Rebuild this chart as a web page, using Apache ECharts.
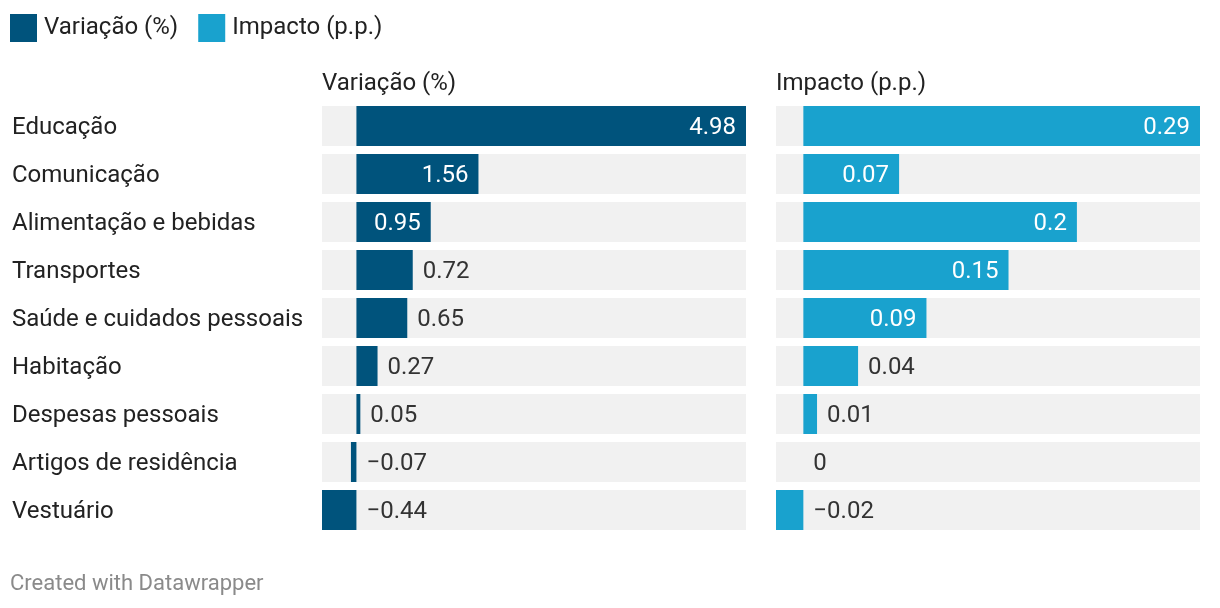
<!DOCTYPE html>
<html>
<head>
<meta charset="utf-8">
<script src="https://cdn.jsdelivr.net/npm/echarts@6/dist/echarts.min.js"></script>
<style>
html,body{margin:0;padding:0;background:#fff;}
#chart{width:1220px;height:608px;}
</style>
</head>
<body>
<div id="chart"></div>
<script>
const categories = ["Educação","Comunicação","Alimentação e bebidas","Transportes","Saúde e cuidados pessoais","Habitação","Despesas pessoais","Artigos de residência","Vestuário"];
const variacao = [4.98, 1.56, 0.95, 0.72, 0.65, 0.27, 0.05, -0.07, -0.44];
const impacto = [0.29, 0.07, 0.2, 0.15, 0.09, 0.04, 0.01, 0, -0.02];
const seriesNames = ["Variação (%)", "Impacto (p.p.)"];
const footerText = "Created with Datawrapper";

const DARK = "#00537c";
const LIGHT = "#19a2ce";
const BG = "#f1f1f1";
const FONT = "Roboto";
const GRID_W = 424;
const FS = 24;

function fmt(v){ return String(v).replace('-', '\u2212'); }

function labelData(vals, min, max){
  const scale = GRID_W / (max - min);
  return vals.map(v => {
    const px = Math.max(v,0) * scale;
    const tw = fmt(v).length * 12 + 20;
    const inside = v > 0 && px >= tw;
    return {
      value: Math.max(v, 0),
      label: {
        position: inside ? 'insideRight' : 'right',
        distance: 10,
        color: inside ? '#ffffff' : '#333333'
      },
      raw: v
    };
  });
}

const vMin = -0.44, vMax = 4.98, iMin = -0.02, iMax = 0.29;

const chart = echarts.init(document.getElementById('chart'), null, {renderer:'canvas'});
const labelStyle = {show:true, fontFamily:FONT, fontSize:FS, offset:[0,2], formatter: p => fmt(p.data.raw)};

chart.setOption({
  animation:false,
  textStyle:{fontFamily:FONT},
  legend:{
    left:10, top:14, padding:0, itemWidth:27, itemHeight:28, itemGap:20, icon:'rect',
    data:seriesNames,
    textStyle:{fontFamily:FONT, fontSize:FS, color:'#222', padding:[0,0,0,2]}
  },
  title:[
    {text:seriesNames[0], left:322, top:72, textStyle:{fontFamily:FONT, fontSize:FS, fontWeight:'normal', color:'#222'}, padding:0},
    {text:seriesNames[1], left:776, top:72, textStyle:{fontFamily:FONT, fontSize:FS, fontWeight:'normal', color:'#222'}, padding:0},
    {text:footerText, left:10, top:573, textStyle:{fontFamily:FONT, fontSize:22, fontWeight:'normal', color:'#8a8a8a'}, padding:0}
  ],
  grid:[
    {left:322, top:102, width:GRID_W, height:432},
    {left:776, top:102, width:GRID_W, height:432}
  ],
  xAxis:[
    {type:'value', gridIndex:0, min:vMin, max:vMax, show:false},
    {type:'value', gridIndex:1, min:iMin, max:iMax, show:false}
  ],
  yAxis:[
    {type:'category', gridIndex:0, data:categories, inverse:true,
     axisLine:{show:false}, axisTick:{show:false}, splitLine:{show:false},
     axisLabel:{align:'left', margin:310, formatter: v => '{c|' + v + '}',
       rich:{c:{fontFamily:FONT, fontSize:FS, color:'#222', padding:[4,0,0,0]}}}},
    {type:'category', gridIndex:1, data:categories, inverse:true, show:false}
  ],
  series:[
    {name:seriesNames[0], type:'bar', xAxisIndex:0, yAxisIndex:0, data:variacao, barWidth:40,
     itemStyle:{color:DARK}, showBackground:true, backgroundStyle:{color:BG}},
    {name:'lbl0', type:'bar', xAxisIndex:0, yAxisIndex:0, data:labelData(variacao, vMin, vMax), barWidth:40, barGap:'-100%',
     itemStyle:{color:'rgba(0,0,0,0)'}, label:labelStyle, silent:true},
    {name:seriesNames[1], type:'bar', xAxisIndex:1, yAxisIndex:1, data:impacto, barWidth:40,
     itemStyle:{color:LIGHT}, showBackground:true, backgroundStyle:{color:BG}},
    {name:'lbl1', type:'bar', xAxisIndex:1, yAxisIndex:1, data:labelData(impacto, iMin, iMax), barWidth:40, barGap:'-100%',
     itemStyle:{color:'rgba(0,0,0,0)'}, label:labelStyle, silent:true}
  ]
});
</script>
</body>
</html>
